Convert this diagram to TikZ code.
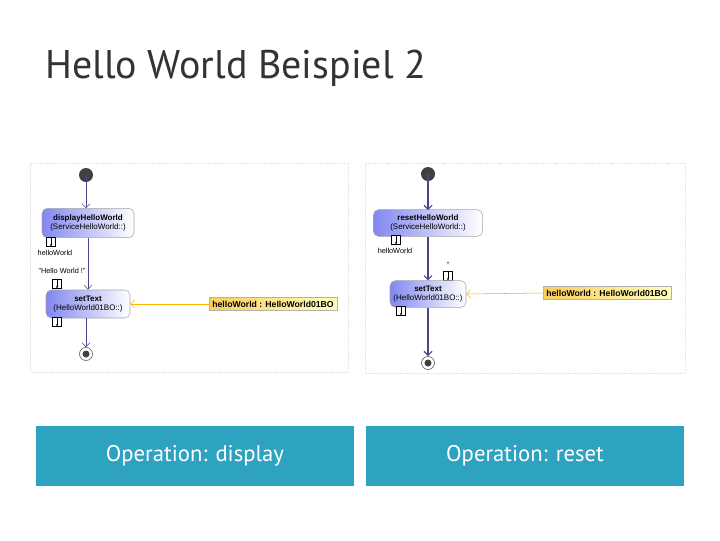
\documentclass[tikz,border=0pt]{standalone}
\usepackage{fontspec}
\setmainfont{Liberation Sans}
\newfontfamily\titlefont{PT Sans}
\usetikzlibrary{arrows.meta}
\definecolor{btnblue}{RGB}{46,163,192}
\definecolor{actblue}{RGB}{130,135,240}
\definecolor{lineblue}{RGB}{70,70,140}
\definecolor{objyellow}{RGB}{250,205,90}
\tikzset{
  action/.style={draw=gray!70,rounded corners=4pt,left color=actblue,right color=white,
    align=center,font=\fontsize{6}{7}\selectfont,inner sep=1pt},
  pin/.style={draw,fill=white,minimum size=7pt,inner sep=0pt,
    path picture={\draw[-{Stealth[length=2pt]}] (path picture bounding box.north)
      -- (path picture bounding box.south);}},
  objbox/.style={draw=gray!60,left color=objyellow,right color=yellow!25,
    font=\bfseries\fontsize{6.5}{7}\selectfont,inner sep=2.5pt},
  flow/.style={lineblue,-{Straight Barb[length=3pt]}},
  objflow/.style={orange!60!yellow,-{Straight Barb[length=3pt]}},
  small/.style={font=\fontsize{5.5}{6}\selectfont,inner sep=0pt},
  button/.style={fill=btnblue,text=white,font=\titlefont\fontsize{17}{20}\selectfont,
    minimum width=238.5pt,minimum height=45pt},
}
\begin{document}
\begin{tikzpicture}[x=0.75pt,y=-0.75pt]
  \useasboundingbox[fill=white] (0,0) rectangle (720,540);
  % title
  \node[anchor=base west,text=black!80,font=\titlefont\fontsize{30}{32}\selectfont,
    inner sep=0pt] (title) at (45,78) {Hello World Beispiel 2};
  % panels
  \draw[gray!25,densely dotted] (30,163) rectangle (348,372);
  \draw[gray!25,densely dotted] (365,163) rectangle (685,373);
  % left: display
  \fill[black!75] (86,175) circle (7) coordinate (initA);
  \node[action,minimum width=69pt,minimum height=22pt] (display) at (88,223)
    {\textbf{displayHelloWorld}\\(ServiceHelloWorld::)};
  \node[pin] (pinA) at (51,242) {};
  \node[small] (hwA) at (55,253) {helloWorld};
  \node[small] (strA) at (62,271) {"Hello World !"};
  \node[pin] (pinB) at (57,284) {};
  \node[action,minimum width=63pt,minimum height=21pt] (setA) at (88,304)
    {\textbf{setText}\\(HelloWorld01BO::)};
  \node[pin] (pinC) at (57,322) {};
  \draw[black!70,fill=white] (86,354) circle (6.5);
  \fill[black!75] (86,354) circle (3.5) coordinate (finalA);
  \node[objbox] (objA) at (273,304) {helloWorld : HelloWorld01BO};
  \draw[flow] (initA) -- (86,208);
  \draw[flow] (display.south) -- (setA.north);
  \draw[flow] (86,318) -- (86,347);
  \draw[objflow] (objA.west) -- (setA.east);
  % right: reset
  \fill[black!75] (428,174) circle (7) coordinate (initB);
  \node[action,minimum width=82pt,minimum height=20pt] (reset) at (428,223)
    {\textbf{resetHelloWorld}\\(ServiceHelloWorld::)};
  \node[pin] (pinD) at (396,240) {};
  \node[small] (hwB) at (395,251) {helloWorld};
  \node[small] (strB) at (448,265) {''};
  \node[pin] (pinE) at (448,276) {};
  \node[action,minimum width=57pt,minimum height=20pt] (setB) at (428,294)
    {\textbf{setText}\\(HelloWorld01BO::)};
  \node[pin] (pinF) at (401,311) {};
  \draw[black!70,fill=white] (428,363) circle (6.5);
  \fill[black!75] (428,363) circle (3.5) coordinate (finalB);
  \node[objbox] (objB) at (607,293) {helloWorld : HelloWorld01BO};
  \draw[flow,thick] (initB) -- (428,210);
  \draw[flow,thick] (reset.south) -- (setB.north);
  \draw[flow,thick] (setB.south) -- (428,356);
  \draw[objflow] (objB.west) -- (setB.east);
  % buttons
  \node[button] (btnA) at (195,456) {Operation: display};
  \node[button] (btnB) at (525,456) {Operation: reset};
\end{tikzpicture}
\end{document}
